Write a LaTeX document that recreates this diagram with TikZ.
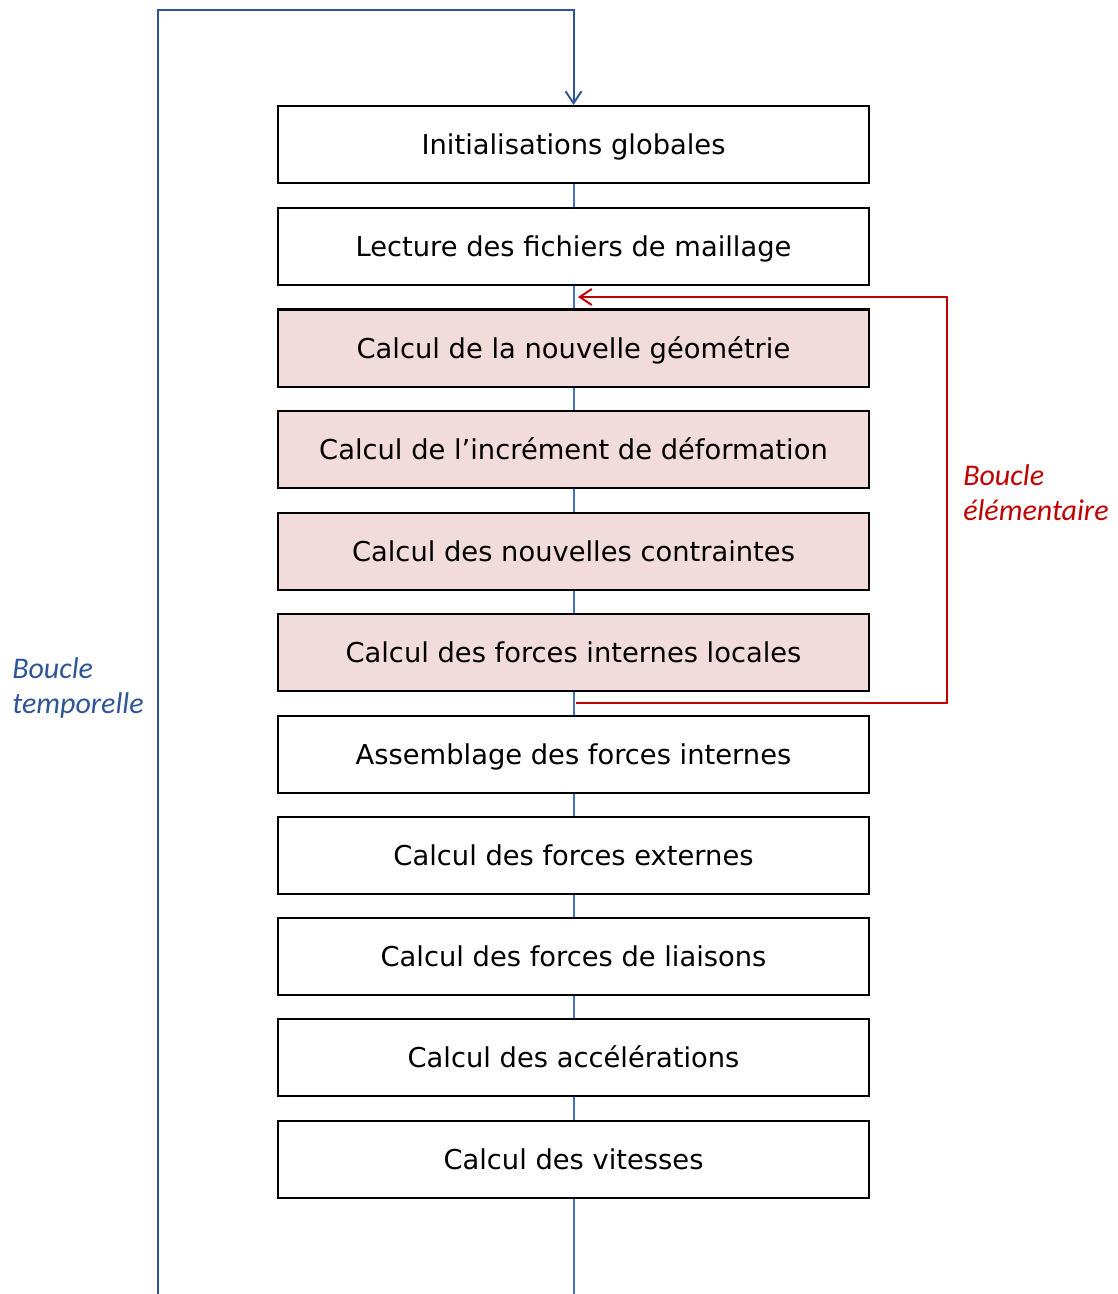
\documentclass[tikz,border=0pt]{standalone}
\usepackage{fontspec}
\setmainfont{DejaVu Sans}
\newfontfamily\labelfont{Carlito}
\usetikzlibrary{arrows.meta}
\definecolor{loopblue}{HTML}{2F5597}
\definecolor{linkblue}{HTML}{4472C4}
\definecolor{loopred}{HTML}{C00000}
\definecolor{stepfill}{HTML}{F2DCDB}
\begin{document}
\begin{tikzpicture}[x=0.75pt,y=-0.75pt,
  stepbox/.style={draw=black, line width=1.5pt, fill=white,
    minimum width=443.25pt, minimum height=57.75pt, inner sep=0pt,
    font=\fontsize{20.5}{24}\selectfont, text height=15pt, text depth=0pt},
  hotbox/.style={stepbox, fill=stepfill},
  linkline/.style={draw=linkblue, line width=1.5pt},
  tloop/.style={draw=loopblue, line width=1.5pt},
  eloop/.style={draw=loopred, line width=1.5pt},
  tipv/.style={-{Straight Barb[length=9pt,width=12pt]}},
  looplabel/.style={anchor=base west, align=left, inner sep=0pt,
    font=\labelfont\itshape\fontsize{22.5}{26.25}\selectfont}]
\useasboundingbox (0,0) rectangle (1117,1294);

\node[stepbox] (b1)  at (573.5,144.5)  {Initialisations globales};
\node[stepbox] (b2)  at (573.5,246.5)  {Lecture des fichiers de maillage};
\node[hotbox]  (b3)  at (573.5,348)    {Calcul de la nouvelle géométrie};
\node[hotbox]  (b4)  at (573.5,449.5)  {Calcul de l’incrément de déformation};
\node[hotbox]  (b5)  at (573.5,551)    {Calcul des nouvelles contraintes};
\node[hotbox]  (b6)  at (573.5,652.5)  {Calcul des forces internes locales};
\node[stepbox] (b7)  at (573.5,754)    {Assemblage des forces internes};
\node[stepbox] (b8)  at (573.5,855.5)  {Calcul des forces externes};
\node[stepbox] (b9)  at (573.5,956.5)  {Calcul des forces de liaisons};
\node[stepbox] (b10) at (573.5,1057.5) {Calcul des accélérations};
\node[stepbox] (b11) at (573.5,1159)   {Calcul des vitesses};

\foreach \a/\b in {b1/b2,b2/b3,b3/b4,b4/b5,b5/b6,b6/b7,b7/b8,b8/b9,b9/b10,b10/b11}
  \draw[linkline] (\a.south) -- (\b.north);
\coordinate (bot) at (573.5,1294);
\draw[linkline] (b11.south) -- (bot);

\coordinate (t0) at (158,1294);
\coordinate (t1) at (158,10);
\coordinate (t2) at (573.5,10);
\draw[tloop, tipv] (t0) -- (t1) -- (t2) -- (b1.north);

\coordinate (e0) at (576,703);
\coordinate (e1) at (947,703);
\coordinate (e2) at (947,297);
\coordinate (e3) at (578,297);
\draw[eloop, tipv] (e0) -- (e1) -- (e2) -- (e3);

\node[looplabel, text=loopblue] (lt) at (12,713) {Boucle\\temporelle};
\node[looplabel, text=loopred] (le) at (963,520) {Boucle\\élémentaire};
\end{tikzpicture}
\end{document}
